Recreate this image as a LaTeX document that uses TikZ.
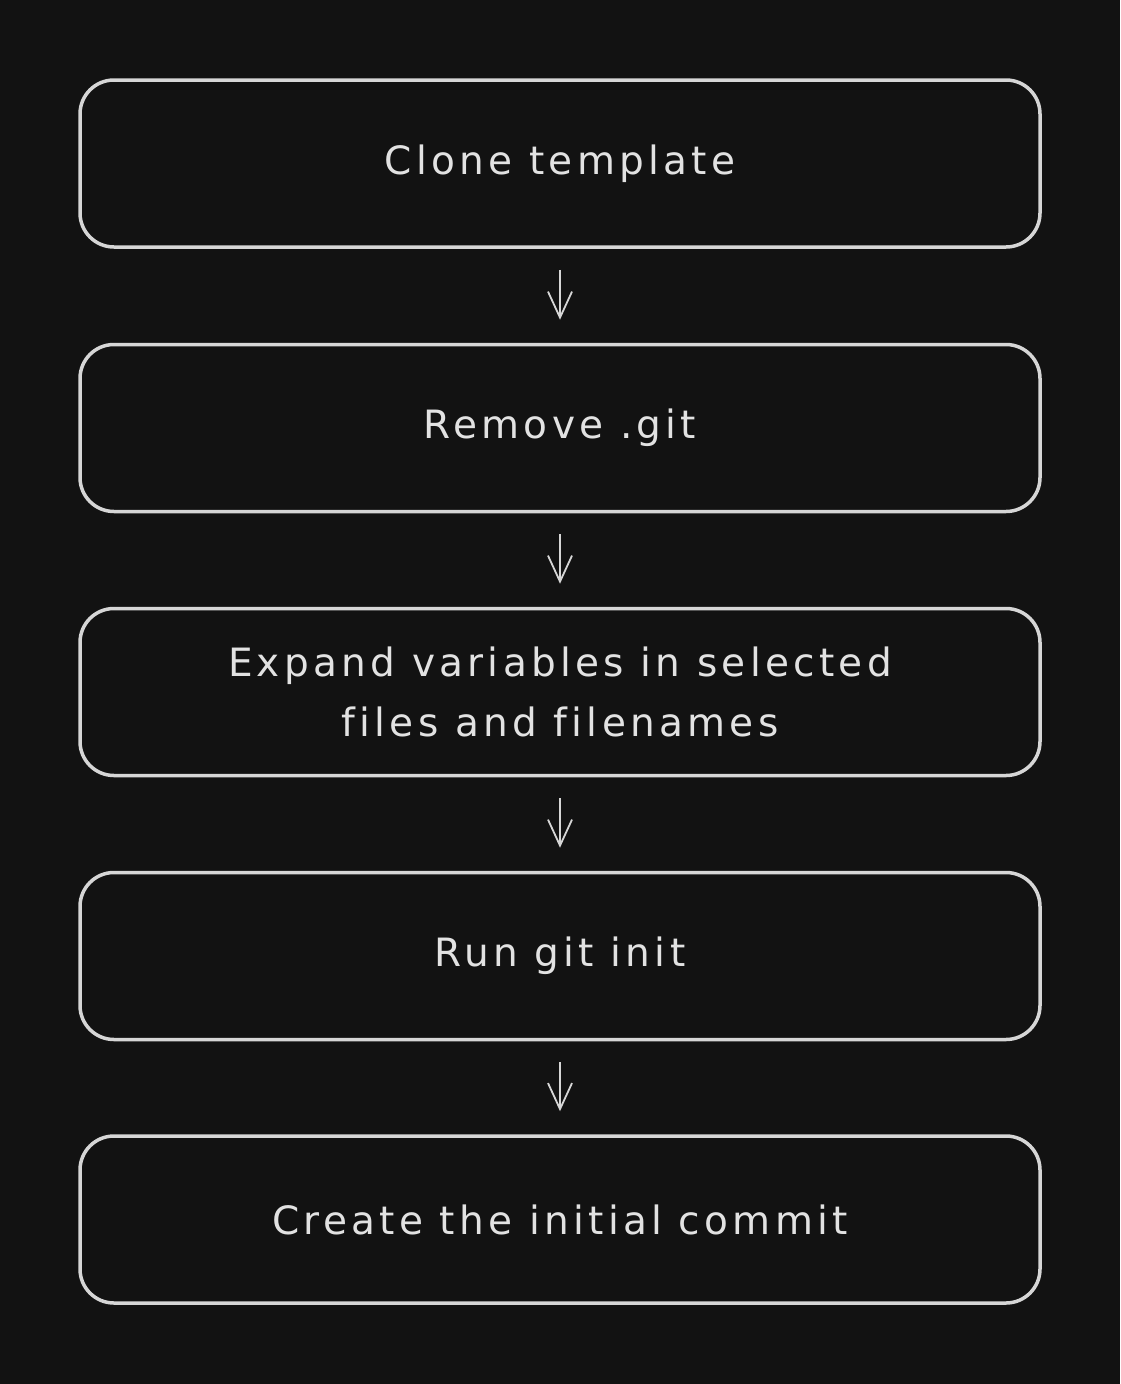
\documentclass[tikz,border=0pt]{standalone}
\usepackage{fontspec}
\setmainfont{DejaVu Sans}[LetterSpace=11, Ligatures={NoCommon}]
\usetikzlibrary{arrows.meta}
\definecolor{bg}{HTML}{121212}
\definecolor{fg}{HTML}{D6D6D6}
\definecolor{tx}{HTML}{E2E2E2}
\tikzset{
  stepbox/.style={draw=fg, line width=3.5pt, rounded corners=34pt, minimum width=960pt, minimum height=167pt, inner sep=0pt, align=center, text=tx, font=\fontsize{39}{60}\selectfont},
  flow/.style={draw=fg, line width=1.8pt, -{Straight Barb[length=26pt,width=24pt,line width=1.8pt]}, shorten <=21pt, shorten >=23pt}
}
\begin{document}
\begin{tikzpicture}[x=1pt,y=-1pt]
\fill[bg] (0,0) rectangle (1120,1384);
\useasboundingbox (0,0) rectangle (1120,1384);
\node[stepbox] (b1) at (560,163.5) {Clone template};
\node[stepbox] (b2) at (560,428) {Remove .git};
\node[stepbox] (b3) at (560,692) {Expand variables in selected\\files and filenames};
\node[stepbox] (b4) at (560,956) {Run git init};
\node[stepbox] (b5) at (560,1219.5) {Create the initial commit};
\draw[flow] (b1.south) -- (b2.north);
\draw[flow] (b2.south) -- (b3.north);
\draw[flow] (b3.south) -- (b4.north);
\draw[flow] (b4.south) -- (b5.north);
\end{tikzpicture}
\end{document}
